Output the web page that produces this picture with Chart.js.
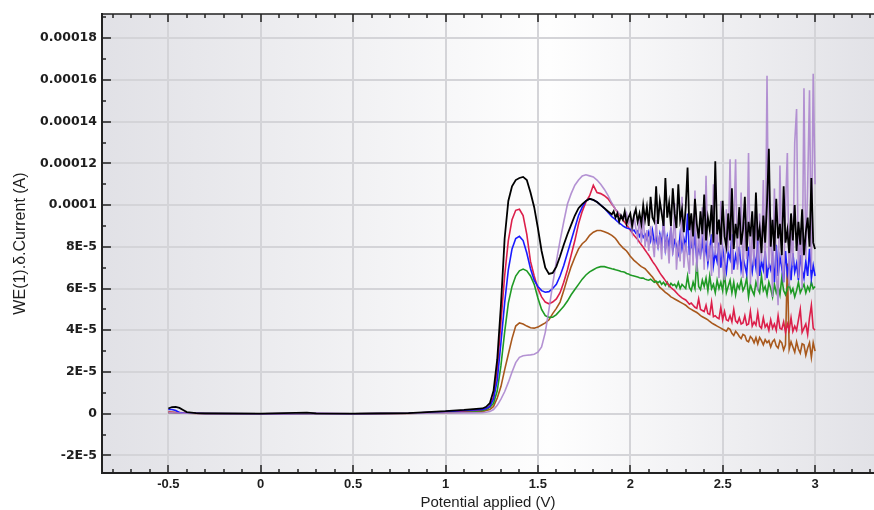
<!DOCTYPE html>
<html>
<head>
<meta charset="utf-8">
<script src="https://cdn.jsdelivr.net/npm/chart.js@4/dist/chart.umd.min.js"></script>
<style>
html,body{margin:0;padding:0;background:#fff;}
canvas{display:block;}
</style>
</head>
<body>
<canvas id="c" width="874" height="510" style="width:874px;height:510px"></canvas>
<script>
// Potential applied (V)
const potentials = [
  -0.5,-0.48,-0.46,-0.44,-0.42,-0.4,-0.35,-0.3,0,0.25,0.3,0.5,0.8,0.9,1.0,1.1,1.15,
  1.20,1.22,1.24,1.26,1.28,1.30,1.32,1.34,1.36,1.38,
  1.40,1.42,1.44,1.46,1.48,1.50,1.52,1.54,1.56,1.58,
  1.60,1.62,1.64,1.66,1.68,1.70,1.72,1.74,1.76,1.78,
  1.80,1.82,1.84,1.86,1.88,
  1.90,1.91,1.92,1.93,1.94,1.95,1.96,1.97,1.98,1.99,
  2.00,2.01,2.02,2.03,2.04,2.05,2.06,2.07,2.08,2.09,
  2.10,2.11,2.12,2.13,2.14,2.15,2.16,2.17,2.18,2.19,
  2.20,2.21,2.22,2.23,2.24,2.25,2.26,2.27,2.28,2.29,
  2.30,2.31,2.32,2.33,2.34,2.35,2.36,2.37,2.38,2.39,
  2.40,2.41,2.42,2.43,2.44,2.45,2.46,2.47,2.48,2.49,
  2.50,2.51,2.52,2.53,2.54,2.55,2.56,2.57,2.58,2.59,
  2.60,2.61,2.62,2.63,2.64,2.65,2.66,2.67,2.68,2.69,
  2.70,2.71,2.72,2.73,2.74,2.75,2.76,2.77,2.78,2.79,
  2.80,2.81,2.82,2.83,2.84,2.85,2.86,2.87,2.88,2.89,
  2.90,2.91,2.92,2.93,2.94,2.95,2.96,2.97,2.98,2.99,
  3.00
];
// Currents in units of 1E-5 A
const currentBlack = [
  0.25,0.32,0.33,0.28,0.18,0.08,0.03,0.02,0.0,0.05,0.02,0.0,0.03,0.08,0.12,0.18,0.22,
  0.25,0.33,0.5,1.1,2.6,5.2,8.4,10.2,10.9,11.2,
  11.3,11.35,11.2,10.6,9.9,8.9,7.8,7.0,6.7,6.75,
  7.05,7.55,8.1,8.6,9.05,9.5,9.85,10.05,10.2,10.3,
  10.25,10.15,10.0,9.85,9.7,
  9.55,9.7,9.4,9.6,9.2,9.5,9.3,9.7,9.1,9.4,
  9.6,9.0,9.5,9.8,9.2,9.6,9.1,10.0,9.3,9.9,
  9.0,10.4,9.4,9.2,10.9,9.1,10.2,9.6,9.0,11.3,
  9.4,10.1,9.0,10.8,9.6,8.9,11.0,9.3,9.8,8.7,
  9.9,11.8,8.8,9.6,8.5,10.3,9.1,8.4,9.7,8.6,
  10.5,8.3,9.4,8.8,10.0,8.2,12.1,8.6,9.3,8.1,
  10.2,8.5,8.0,9.6,8.3,10.8,7.9,9.1,8.4,9.9,
  8.1,8.8,10.4,7.8,9.2,8.5,9.7,7.9,10.6,8.3,
  8.9,7.7,9.5,8.2,10.1,12.7,8.0,9.3,7.8,10.3,
  8.4,9.1,7.6,10.9,8.2,8.8,7.7,9.6,8.3,10.0,
  7.8,9.2,8.1,9.8,7.6,8.7,9.4,8.0,11.3,8.2,
  7.9
];
const currentCrimson = [
  0.08,0.07,0.06,0.05,0.04,0.03,0.02,0.01,0.0,0.01,0.01,0.0,0.02,0.05,0.08,0.13,0.16,
  0.2,0.25,0.35,0.8,2.1,4.4,6.6,8.3,9.3,9.75,
  9.8,9.5,8.6,7.3,6.6,6.0,5.6,5.35,5.27,5.35,
  5.5,5.8,6.3,6.9,7.6,8.3,9.1,9.7,10.15,10.45,
  10.95,10.6,10.55,10.45,10.3,
  10.05,9.93,9.8,9.68,9.55,9.43,9.3,9.18,9.05,8.93,
  8.8,8.68,8.55,8.45,8.35,8.22,8.1,7.98,7.85,7.72,
  7.6,7.45,7.3,7.18,7.05,6.9,6.75,6.62,6.5,6.38,
  6.25,6.15,6.05,5.97,5.9,5.8,5.7,5.62,5.55,5.5,
  5.45,5.35,5.25,5.3,5.2,5.1,5.05,5.5,5.0,4.95,
  4.9,5.2,4.8,4.75,5.35,4.65,4.7,4.6,4.55,5.1,
  4.5,4.9,4.5,4.45,4.7,4.4,5.0,4.45,4.35,4.6,
  4.3,4.35,4.7,4.25,4.3,4.9,4.2,4.4,4.25,4.85,
  4.2,4.1,4.6,4.15,4.3,4.0,4.5,4.1,4.3,4.0,
  4.7,4.1,4.05,4.4,3.9,4.3,4.0,4.6,3.95,4.2,
  4.0,4.5,5.0,3.9,4.1,4.3,3.8,4.6,5.2,4.1,
  4.0
];
const currentBlue = [
  0.2,0.2,0.15,0.06,0.03,0.02,0.02,0.01,0.0,0.01,0.01,0.0,0.02,0.06,0.1,0.15,0.18,
  0.2,0.25,0.35,0.7,1.6,3.4,5.3,6.9,7.9,8.4,
  8.5,8.3,7.7,6.95,6.4,6.1,5.9,5.82,5.85,6.0,
  6.2,6.6,7.1,7.7,8.3,8.9,9.5,9.9,10.2,10.3,
  10.25,10.15,10.0,9.85,9.65,
  9.45,9.38,9.3,9.22,9.15,9.08,9.0,8.95,8.9,8.88,
  8.85,8.75,8.8,8.65,8.75,8.5,8.7,8.45,8.6,8.35,
  8.7,8.3,8.8,8.2,8.45,8.0,8.6,8.1,9.3,7.9,
  8.5,8.0,8.9,7.8,8.3,8.1,7.7,8.6,7.9,8.4,
  8.0,9.6,7.6,8.2,7.8,8.5,7.4,8.0,7.6,8.3,
  7.5,8.1,7.2,7.9,8.6,7.1,7.7,7.3,8.2,7.0,
  7.9,7.3,6.8,7.7,7.4,8.6,6.9,7.6,7.2,8.0,
  6.9,7.5,7.1,6.7,8.0,7.3,6.8,7.6,7.0,8.4,
  6.6,7.3,6.9,7.8,6.5,7.2,6.9,7.5,6.3,8.1,
  6.6,7.5,7.0,6.3,7.8,6.7,7.2,6.4,7.7,6.8,
  7.2,6.4,7.6,6.9,6.5,7.3,6.6,7.9,6.5,7.1,
  6.6
];
const currentGreen = [
  0.06,0.05,0.05,0.04,0.03,0.02,0.02,0.01,0.0,0.0,0.0,0.0,0.02,0.04,0.07,0.1,0.12,
  0.15,0.2,0.3,0.5,1.1,2.3,3.9,5.3,6.1,6.6,
  6.85,6.93,6.85,6.6,6.2,5.55,5.0,4.7,4.62,4.63,
  4.75,4.95,5.15,5.4,5.7,5.95,6.2,6.45,6.65,6.8,
  6.9,7.0,7.05,7.05,7.0,
  6.95,6.93,6.9,6.88,6.85,6.82,6.8,6.78,6.72,6.7,
  6.65,6.62,6.6,6.58,6.55,6.52,6.5,6.5,6.45,6.42,
  6.4,6.45,6.38,6.3,6.35,6.28,6.35,6.2,6.3,6.15,
  6.3,6.1,6.25,6.15,6.2,6.05,6.3,6.0,6.2,6.1,
  6.0,6.6,6.05,5.9,6.3,6.0,7.3,6.1,5.95,6.4,
  6.1,6.5,5.9,6.6,6.0,6.2,5.8,6.4,6.0,6.3,
  5.9,6.7,5.8,6.1,6.4,5.8,6.3,5.7,6.2,6.0,
  6.4,5.9,6.1,6.5,5.6,6.2,5.9,5.7,6.3,6.0,
  5.8,6.6,5.9,6.1,5.7,6.3,6.0,5.6,6.2,5.8,
  6.1,5.7,6.5,5.9,5.7,6.0,6.2,5.8,6.0,5.6,
  5.9,6.3,5.8,6.0,6.2,5.8,6.1,5.9,6.3,6.0,
  6.1
];
const currentBrown = [
  0.05,0.05,0.04,0.04,0.03,0.02,0.01,0.0,-0.01,0.0,0.0,-0.01,0.01,0.03,0.05,0.07,0.09,
  0.1,0.15,0.2,0.35,0.75,1.3,2.1,2.85,3.6,4.2,
  4.35,4.3,4.2,4.12,4.1,4.15,4.25,4.35,4.5,4.8,
  5.05,5.35,5.9,6.5,7.05,7.5,7.9,8.15,8.3,8.55,
  8.7,8.78,8.78,8.72,8.65,
  8.55,8.48,8.4,8.28,8.15,8.05,7.95,7.88,7.8,7.68,
  7.55,7.45,7.35,7.28,7.2,7.12,7.05,7.0,6.95,6.85,
  6.75,6.65,6.55,6.42,6.3,6.18,6.05,5.98,5.9,5.82,
  5.75,5.68,5.6,5.55,5.5,5.45,5.4,5.35,5.3,5.25,
  5.2,5.12,5.05,5.0,4.95,4.9,4.85,4.78,4.7,4.65,
  4.6,4.55,4.5,4.42,4.35,4.3,4.25,4.2,4.15,4.1,
  4.05,4.0,3.95,4.1,4.05,3.85,3.75,3.95,3.85,3.7,
  3.6,3.8,3.75,3.5,3.45,3.7,3.6,3.4,3.65,3.35,
  3.65,3.5,3.3,3.55,3.4,3.5,3.2,3.45,3.55,3.25,
  3.15,3.5,3.4,3.05,3.3,7.2,3.1,3.45,3.2,2.95,
  3.45,3.1,2.9,3.35,3.3,2.8,3.15,3.4,2.7,3.4,
  3.0
];
const currentLilac = [
  0.04,0.04,0.03,0.03,0.02,0.02,0.01,0.0,0.0,0.0,0.0,0.0,0.01,0.02,0.03,0.04,0.04,
  0.05,0.07,0.1,0.2,0.4,0.7,1.05,1.5,2.0,2.45,
  2.7,2.78,2.8,2.82,2.85,2.95,3.2,3.9,5.0,6.2,
  7.3,8.3,9.2,10.05,10.55,10.95,11.2,11.4,11.45,11.4,
  11.35,11.2,11.0,10.75,10.45,
  10.1,9.95,9.8,9.7,9.6,9.5,9.45,9.35,9.6,9.1,
  9.3,8.7,9.5,8.9,8.4,9.4,8.2,9.6,8.0,8.8,
  7.8,9.0,8.3,7.5,9.3,7.9,8.6,7.4,9.8,7.7,
  8.5,7.2,9.1,7.6,10.1,6.9,8.3,7.3,10.4,7.0,
  8.2,7.5,6.7,9.4,7.1,10.7,6.8,8.6,7.4,9.9,
  6.9,11.4,7.3,8.1,6.6,11.0,7.6,9.0,6.5,10.2,
  7.2,6.4,9.8,7.8,12.2,6.7,8.8,12.2,6.9,8.0,
  10.6,6.5,9.2,7.4,12.5,6.2,8.9,7.1,10.3,5.9,
  9.6,7.3,11.2,6.4,16.2,7.0,9.4,5.6,10.8,6.8,
  5.2,11.9,7.5,6.3,9.9,12.5,6.1,8.7,7.1,13.0,
  14.6,6.5,8.9,6.0,15.6,7.4,10.9,15.5,6.9,16.3,
  11.0
];

const xTickValues = [-0.5, 0, 0.5, 1, 1.5, 2, 2.5, 3];
const xTickLabels = ['-0.5', '0', '0.5', '1', '1.5', '2', '2.5', '3'];
const yTickValues = [-2, 0, 2, 4, 6, 8, 10, 12, 14, 16, 18];
const yTickLabels = ['-2E-5', '0', '2E-5', '4E-5', '6E-5', '8E-5', '0.0001', '0.00012', '0.00014', '0.00016', '0.00018'];

const xTitle = 'Potential applied (V)';
const yTitle = 'WE(1).\u03b4.Current (A)';

function toPoints(values) {
  return potentials.map((x, i) => ({ x: x, y: values[i] }));
}

const seriesList = [
  { data: currentBlack, color: '#000000', width: 1.8 },
  { data: currentLilac, color: 'rgba(172,134,206,0.9)', width: 1.6 },
  { data: currentBlue, color: '#1a1aff', width: 1.6 },
  { data: currentCrimson, color: '#dc1f4a', width: 1.6 },
  { data: currentGreen, color: '#1f9a25', width: 1.6 },
  { data: currentBrown, color: '#a8581c', width: 1.6 }
];

const frame = {
  id: 'frame',
  beforeDraw(chart) {
    const ctx = chart.ctx, a = chart.chartArea;
    const g = ctx.createLinearGradient(a.left, 0, a.right, 0);
    g.addColorStop(0, '#e1e1e6');
    g.addColorStop(0.58, '#fefefe');
    g.addColorStop(1, '#e2e2e7');
    ctx.save();
    ctx.fillStyle = g;
    ctx.fillRect(a.left, a.top, a.right - a.left, a.bottom - a.top);
    ctx.restore();
  },
  afterDraw(chart) {
    const ctx = chart.ctx, a = chart.chartArea;
    const xs = chart.scales.x, ys = chart.scales.y;
    ctx.save();
    ctx.strokeStyle = '#222';
    ctx.lineWidth = 1.5;
    ctx.beginPath();
    ctx.moveTo(a.left, a.top);
    ctx.lineTo(a.right, a.top);
    const k0 = Math.ceil(xs.min * 10 - 1e-9), k1 = Math.floor(xs.max * 10 + 1e-9);
    for (let k = k0; k <= k1; k++) {
      const px = Math.round(xs.getPixelForValue(k / 10));
      const len = (k % 5 === 0) ? 8 : 4;
      ctx.moveTo(px, a.bottom);
      ctx.lineTo(px, a.bottom - len);
      ctx.moveTo(px, a.top);
      ctx.lineTo(px, a.top + len);
    }
    const j0 = Math.ceil(ys.min - 1e-9), j1 = Math.floor(ys.max + 1e-9);
    for (let j = j0; j <= j1; j++) {
      const py = Math.round(ys.getPixelForValue(j));
      const len = (j % 2 === 0) ? 9 : 4;
      ctx.moveTo(a.left, py);
      ctx.lineTo(a.left + len, py);
    }
    ctx.stroke();
    ctx.restore();
  }
};

new Chart(document.getElementById('c'), {
  type: 'line',
  data: {
    datasets: seriesList.map(s => ({
      data: toPoints(s.data),
      borderColor: s.color,
      backgroundColor: s.color,
      borderWidth: s.width,
      pointRadius: 0,
      tension: 0,
      fill: false
    }))
  },
  options: {
    responsive: false,
    animation: false,
    devicePixelRatio: 1,
    layout: { padding: { top: 14, right: 0, bottom: 0, left: 0 } },
    plugins: { legend: { display: false }, tooltip: { enabled: false } },
    scales: {
      x: {
        type: 'linear',
        min: -0.859,
        max: 3.319,
        afterBuildTicks: s => { s.ticks = xTickValues.map(v => ({ value: v })); },
        afterFit: s => { s.height = 37; },
        ticks: {
          autoSkip: false, maxRotation: 0, minRotation: 0, padding: 4,
          color: '#1e1e1e',
          font: { family: '"Liberation Sans", Arial, sans-serif', size: 13, weight: 'bold' },
          callback: (v, i) => xTickLabels[i]
        },
        grid: { color: '#d4d4d8', lineWidth: 2, drawTicks: false },
        border: { display: true, color: '#222', width: 2 },
        title: {
          display: true, text: xTitle, color: '#1e1e1e',
          font: { family: '"Liberation Sans", Arial, sans-serif', size: 15, weight: 'normal' },
          padding: { top: 0, bottom: -2 }
        }
      },
      y: {
        type: 'linear',
        min: -2.843,
        max: 19.16,
        afterBuildTicks: s => { s.ticks = yTickValues.map(v => ({ value: v })); },
        afterFit: s => { s.width = 102; },
        ticks: {
          autoSkip: false, padding: 5,
          color: '#1e1e1e',
          font: { family: '"DejaVu Sans", sans-serif', size: 12.5, weight: 'bold' },
          callback: (v, i) => yTickLabels[i]
        },
        grid: { color: '#d4d4d8', lineWidth: 2, drawTicks: false },
        border: { display: true, color: '#222', width: 2 },
        title: {
          display: true, text: yTitle, color: '#1e1e1e',
          font: { family: '"Liberation Sans", Arial, sans-serif', size: 16, weight: 'normal' },
          padding: { top: 11, bottom: 0 }
        }
      }
    }
  },
  plugins: [frame]
});
</script>
</body>
</html>
